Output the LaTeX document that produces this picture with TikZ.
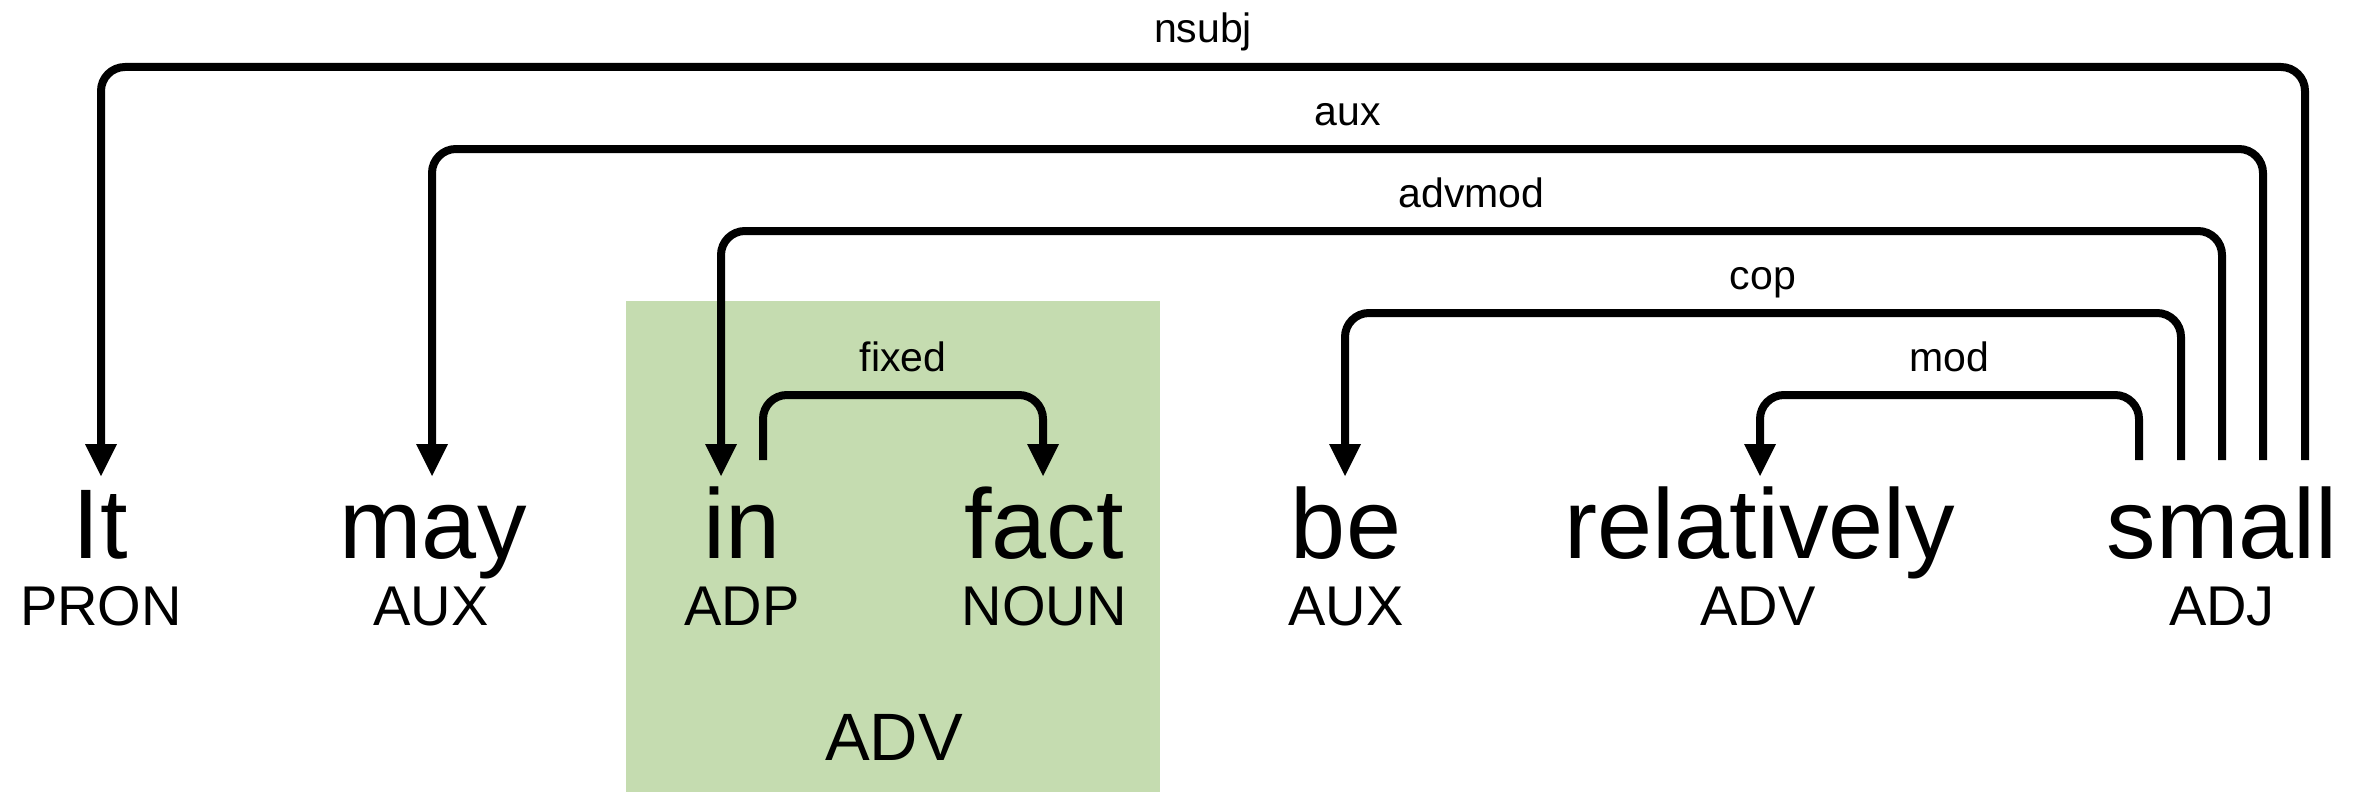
\documentclass[tikz,border=0pt]{standalone}
\usepackage{fontspec}
\setmainfont{Liberation Sans}
\usetikzlibrary{arrows.meta}
\definecolor{chunkgreen}{RGB}{197,220,176}

\begin{document}
\begin{tikzpicture}[x=1pt,y=-1pt,
  word/.style={inner sep=0pt,anchor=base,font=\fontsize{99}{99}\selectfont},
  postag/.style={inner sep=0pt,anchor=base,font=\fontsize{56}{56}\selectfont},
  chunktag/.style={inner sep=0pt,anchor=base,font=\fontsize{67}{67}\selectfont},
  deplabel/.style={inner sep=0pt,anchor=base,font=\fontsize{41}{41}\selectfont,yshift=24pt},
  deparc/.style={line width=8pt,rounded corners=24pt,
    -{Triangle[width=32pt,length=32pt,line width=0pt]}},
]
\useasboundingbox (0,0) rectangle (2359,792);

% multiword chunk "in fact"
\fill[chunkgreen] (626,301) rectangle (1160,792);
\node[chunktag] (chunk) at (894,760) {ADV};

% tokens
\node[word] (w1) at (100,558) {It};
\node[word] (w2) at (433,558) {may};
\node[word] (w3) at (742,558) {in};
\node[word] (w4) at (1044,558) {fact};
\node[word] (w5) at (1346,558) {be};
\node[word] (w6) at (1760,558) {relatively};
\node[word] (w7) at (2222,558) {small};

% part-of-speech tags
\node[postag] (p1) at (101,625) {PRON};
\node[postag] (p2) at (431,625) {AUX};
\node[postag] (p3) at (742,625) {ADP};
\node[postag] (p4) at (1044,625) {NOUN};
\node[postag] (p5) at (1346,625) {AUX};
\node[postag] (p6) at (1758,625) {ADV};
\node[postag] (p7) at (2222,625) {ADJ};

% arc end points above the tokens
\coordinate (w1in) at (101,476);
\coordinate (w2in) at (432,476);
\coordinate (w3in) at (721,476);
\coordinate (w4in) at (1043,476);
\coordinate (w5in) at (1345,476);
\coordinate (w6in) at (1760,476);
\coordinate (w3out) at (763,460);
\coordinate (w7mod) at (2139,460);
\coordinate (w7cop) at (2181,460);
\coordinate (w7adv) at (2222,460);
\coordinate (w7aux) at (2263,460);
\coordinate (w7subj) at (2305,460);

% dependency arcs
\draw[deparc] (w7subj) -- (w7subj |- 0,67) -- node[deplabel] {nsubj} (w1in |- 0,67) -- (w1in);
\draw[deparc] (w7aux) -- (w7aux |- 0,149) -- node[deplabel] {aux} (w2in |- 0,149) -- (w2in);
\draw[deparc] (w7adv) -- (w7adv |- 0,231) -- node[deplabel] {advmod} (w3in |- 0,231) -- (w3in);
\draw[deparc] (w7cop) -- (w7cop |- 0,313) -- node[deplabel] {cop} (w5in |- 0,313) -- (w5in);
\draw[deparc] (w7mod) -- (w7mod |- 0,395) -- node[deplabel] {mod} (w6in |- 0,395) -- (w6in);
\draw[deparc] (w3out) -- (w3out |- 0,395) -- node[deplabel] {fixed} (w4in |- 0,395) -- (w4in);
\end{tikzpicture}
\end{document}
